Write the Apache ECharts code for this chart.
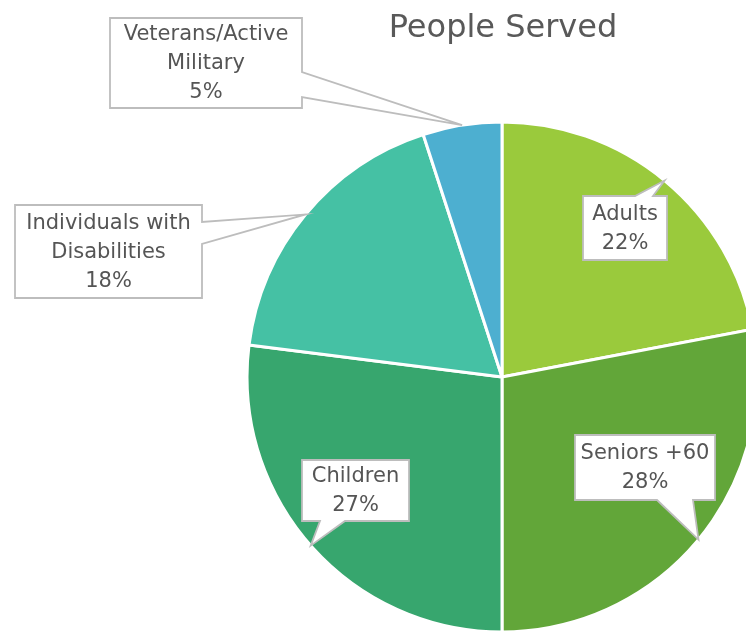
<!DOCTYPE html>
<html>
<head>
<meta charset="utf-8">
<script src="https://cdn.jsdelivr.net/npm/echarts@6/dist/echarts.min.js"></script>
<style>
  html, body { margin: 0; padding: 0; background: #ffffff; }
  #chart { width: 746px; height: 631px; }
</style>
</head>
<body>
<div id="chart"></div>
<script>
// People served, share by group (percent)
const categories = ['Adults', 'Seniors +60', 'Children', 'Individuals with\nDisabilities', 'Veterans/Active\nMilitary'];
const shares = [22, 28, 27, 18, 5];
const sliceColors = ['#9aca3c', '#62a639', '#37a66e', '#45c1a4', '#4dafd0'];

// Callout boxes: rectangle plus the edge carrying the pointer and where along it the pointer base sits
const callouts = [
  { x: 583, y: 196, w: 84, h: 64, edge: 'top', a: 52, b: 70 },
  { x: 575, y: 435, w: 140, h: 65, edge: 'bottom', a: 82, b: 118 },
  { x: 302, y: 460, w: 107, h: 61, edge: 'bottom', a: 18, b: 43 },
  { x: 15, y: 205, w: 187, h: 93, edge: 'right', a: 17, b: 39 },
  { x: 110, y: 18, w: 192, h: 90, edge: 'right', a: 54, b: 79 }
];

const FONT = '"DejaVu Sans", Verdana, sans-serif';
const chart = echarts.init(document.getElementById('chart'), null, { renderer: 'canvas' });

chart.setOption({
  animation: false,
  backgroundColor: '#ffffff',
  title: {
    text: 'People Served',
    left: 498,
    top: 8,
    textAlign: 'center',
    textStyle: { fontFamily: FONT, fontSize: 32, fontWeight: 'normal', color: '#595959' }
  },
  series: [{
    type: 'pie',
    center: [502, 377],
    radius: 255,
    startAngle: 90,
    clockwise: true,
    avoidLabelOverlap: false,
    label: { show: false },
    labelLine: { show: false },
    itemStyle: { borderColor: '#ffffff', borderWidth: 3 },
    data: categories.map((name, i) => ({
      name: name,
      value: shares[i],
      itemStyle: { color: sliceColors[i] }
    }))
  }]
});

// Build callout shapes anchored at the outer edge of each slice's middle angle
const seriesData = chart.getModel().getSeriesByIndex(0).getData();
const elements = [];
callouts.forEach((c, i) => {
  const lay = seriesData.getItemLayout(i);
  const mid = (lay.startAngle + lay.endAngle) / 2;
  const tip = [lay.cx + lay.r * Math.cos(mid), lay.cy + lay.r * Math.sin(mid)];
  const L = c.x, T = c.y, R = c.x + c.w, B = c.y + c.h;
  let pts;
  if (c.edge === 'top') {
    pts = [[L, T], [L + c.a, T], tip, [L + c.b, T], [R, T], [R, B], [L, B]];
  } else if (c.edge === 'bottom') {
    pts = [[L, T], [R, T], [R, B], [L + c.b, B], tip, [L + c.a, B], [L, B]];
  } else {
    pts = [[L, T], [R, T], [R, T + c.a], tip, [R, T + c.b], [R, B], [L, B]];
  }
  elements.push({
    type: 'polygon',
    z: 10,
    shape: { points: pts },
    style: { fill: '#ffffff', stroke: '#bdbdbd', lineWidth: 1.8 }
  });
  elements.push({
    type: 'text',
    z: 11,
    x: c.x + c.w / 2,
    y: c.y + c.h / 2 + 1,
    style: {
      text: categories[i] + '\n' + shares[i] + '%',
      fontFamily: FONT,
      fontSize: 21,
      lineHeight: 29,
      fill: '#555555',
      align: 'center',
      verticalAlign: 'middle'
    }
  });
});
chart.setOption({ graphic: { elements: elements } });
</script>
</body>
</html>
